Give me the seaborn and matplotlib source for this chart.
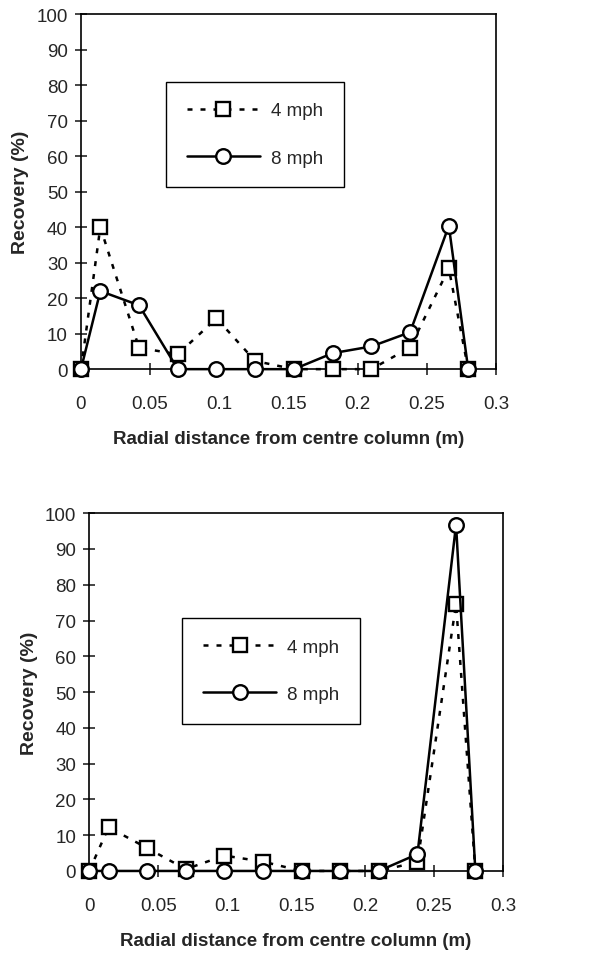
import matplotlib
matplotlib.use("Agg")
import matplotlib.pyplot as plt
from matplotlib.ticker import FormatStrFormatter
import seaborn as sns

# radial positions (m)
radial = [0, 0.014, 0.042, 0.07, 0.098, 0.126, 0.154, 0.182, 0.21, 0.238, 0.266, 0.28]

# top panel recovery (%)
top_4mph = [0, 40, 6, 4.2, 14.3, 2.3, 0, 0, 0, 6.1, 28.4, 0]
top_8mph = [0, 22, 18, 0, 0, 0, 0, 4.5, 6.4, 10.4, 40.4, 0]

# bottom panel recovery (%)
bot_4mph = [0, 12.2, 6.4, 0.5, 4.3, 2.6, 0, 0, 0, 2.5, 74.6, 0]
bot_8mph = [0, 0, 0, 0, 0, 0, 0, 0, 0, 4.7, 96.8, 0]

x_ticks = [0, 0.05, 0.1, 0.15, 0.2, 0.25, 0.3]
y_ticks = list(range(0, 101, 10))

sns.set_style("ticks")
plt.rcParams["font.family"] = ["Liberation Sans", "DejaVu Sans"]


def draw_panel(ax, y4, y8, legend_anchor):

    sns.lineplot(
        x=radial, y=y4, ax=ax,
        color="black", linewidth=1.8, linestyle=(0, (2.0, 3.2)),
        marker="s", markersize=10, markerfacecolor="white",
        markeredgecolor="black", markeredgewidth=1.7,
        label="4 mph", clip_on=False, zorder=3
    )
    sns.lineplot(
        x=radial, y=y8, ax=ax,
        color="black", linewidth=1.8, linestyle="-",
        marker="o", markersize=10.5, markerfacecolor="white",
        markeredgecolor="black", markeredgewidth=1.7,
        label="8 mph", clip_on=False, zorder=4
    )

    ax.set_xlim(0, 0.3)
    ax.set_ylim(0, 100)
    ax.set_xticks(x_ticks)
    ax.set_yticks(y_ticks)
    ax.xaxis.set_major_formatter(FormatStrFormatter("%g"))
    ax.tick_params(direction="inout", length=9, width=1.2,
                   labelsize=13.5)
    ax.tick_params(axis="x", pad=14)
    ax.tick_params(axis="y", pad=5)
    for side in ["top", "right", "bottom", "left"]:
        ax.spines[side].set_visible(True)
        ax.spines[side].set_linewidth(1.2)
        ax.spines[side].set_color("black")

    ax.set_xlabel("Radial distance from centre column (m)",
                  fontsize=13.5, fontweight="bold", labelpad=13)
    ax.set_ylabel("Recovery (%)", fontsize=14, fontweight="bold",
                  labelpad=5)

    leg = ax.legend(
        loc="upper left", bbox_to_anchor=legend_anchor,
        borderaxespad=0, fontsize=13.5, frameon=True, fancybox=False,
        edgecolor="black", handlelength=3.9, handletextpad=0.6,
        labelspacing=1.6, borderpad=1.1, numpoints=1
    )
    leg.get_frame().set_linewidth(1.0)
    leg.get_frame().set_alpha(1)


fig = plt.figure(figsize=(5.91, 9.54), dpi=100)

ax_top = fig.add_axes([0.137, 0.612, 0.702, 0.372])
draw_panel(ax_top, top_4mph, top_8mph, (0.205, 0.81))

ax_bot = fig.add_axes([0.151, 0.086, 0.700, 0.375])
draw_panel(ax_bot, bot_4mph, bot_8mph, (0.225, 0.707))

fig.savefig("out.png", dpi=100)
